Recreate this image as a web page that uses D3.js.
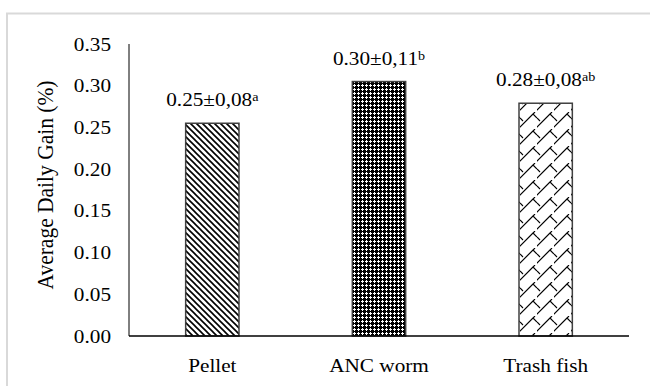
<!DOCTYPE html>
<html>
<head>
<meta charset="utf-8">
<script src="https://cdn.jsdelivr.net/npm/d3@7"></script>
<style>
  body { margin: 0; background: #fff; }
  svg text { font-family: "Liberation Serif", "Times New Roman", serif; fill: #000; }
</style>
</head>
<body>
<svg id="chart"></svg>
<script>
// data
const categories = ['Pellet', 'ANC worm', 'Trash fish'];
const values = [0.255, 0.305, 0.279];
const labelMain = ['0.25±0,08', '0.30±0,11', '0.28±0,08'];
const labelSup = ['a', 'b', 'ab'];
const patterns = ['pat-pellet', 'pat-anc', 'pat-trash'];
const yTicks = [0, 0.05, 0.10, 0.15, 0.20, 0.25, 0.30, 0.35];

const width = 650, height = 386;
const margin = { top: 44, right: 21, bottom: 50, left: 129 };
const innerW = width - margin.left - margin.right;
const innerH = height - margin.top - margin.bottom;
const sx = 1.18; // text in the reference is stretched horizontally

const svg = d3.select('#chart').attr('width', width).attr('height', height);

// outer frame (only top and left edges are visible)
svg.append('path')
  .attr('d', `M7,${height + 5}V13.5H${width + 5}`)
  .attr('fill', 'none')
  .attr('stroke', '#d9d9d9')
  .attr('stroke-width', 2);

const defs = svg.append('defs');

// downward diagonal stripes
const p1 = defs.append('pattern').attr('id', 'pat-pellet')
  .attr('patternUnits', 'userSpaceOnUse').attr('width', 6).attr('height', 6);
p1.append('rect').attr('width', 6).attr('height', 6).attr('fill', '#fff');
p1.append('path').attr('d', 'M-1,-1L7,7M-1,5L1,7M5,-1L7,1')
  .attr('stroke', '#000').attr('stroke-width', 1.6);

// dark dotted grid
const p2 = defs.append('pattern').attr('id', 'pat-anc')
  .attr('patternUnits', 'userSpaceOnUse').attr('width', 4).attr('height', 4);
p2.append('rect').attr('width', 4).attr('height', 4).attr('fill', '#000');
p2.append('rect').attr('x', 0).attr('y', 1).attr('width', 3).attr('height', 1).attr('fill', '#fff');
p2.append('rect').attr('x', 1).attr('y', 0).attr('width', 1).attr('height', 3).attr('fill', '#fff');

// shingle
const p3 = defs.append('pattern').attr('id', 'pat-trash')
  .attr('patternUnits', 'userSpaceOnUse').attr('width', 17).attr('height', 17);
p3.append('rect').attr('width', 17).attr('height', 17).attr('fill', '#fff');
p3.append('path')
  .attr('d', 'M0,15L13,2M-2,17L0,15M13,2L15,0M13,2L17,6M0,6L3,9')
  .attr('stroke', '#000').attr('stroke-width', 1.1).attr('fill', 'none');

const g = svg.append('g').attr('transform', `translate(${margin.left},${margin.top})`);

const x = d3.scaleBand().domain(categories).range([0, innerW])
  .paddingInner(0.68).paddingOuter(0.34);
const y = d3.scaleLinear().domain([0, 0.35]).range([innerH, 0]);

// y axis
const yAxis = d3.axisLeft(y).tickValues(yTicks).tickFormat(d3.format('.2f')).tickSize(0);
g.append('g').call(yAxis)
  .call(s => s.select('.domain').remove())
  .call(s => s.selectAll('text')
    .attr('x', null).attr('dy', '0.34em')
    .attr('transform', `translate(-18,0) scale(${sx},1)`)
    .style('font-size', '18px'));
g.append('line').attr('x1', 0).attr('x2', 0).attr('y1', 0).attr('y2', innerH)
  .attr('stroke', '#000').attr('stroke-width', 1);

// bars
g.selectAll('.bar').data(values).join('rect')
  .attr('class', 'bar')
  .attr('x', (d, i) => x(categories[i]))
  .attr('y', d => y(d))
  .attr('width', x.bandwidth())
  .attr('height', d => innerH - y(d))
  .attr('fill', (d, i) => `url(#${patterns[i]})`)
  .attr('stroke', '#404040')
  .attr('stroke-width', 1.5);

// x axis line
g.append('line').attr('x1', 0).attr('x2', innerW).attr('y1', innerH).attr('y2', innerH)
  .attr('stroke', '#000').attr('stroke-width', 1.5);

// category labels
g.selectAll('.cat').data(categories).join('text')
  .attr('class', 'cat')
  .attr('text-anchor', 'middle')
  .attr('transform', d => `translate(${x(d) + x.bandwidth() / 2},${innerH + 36}) scale(${sx},1)`)
  .style('font-size', '18px')
  .text(d => d);

// value labels with superscripts
const lab = g.selectAll('.val').data(values).join('text')
  .attr('class', 'val')
  .attr('text-anchor', 'middle')
  .attr('transform', (d, i) => `translate(${x(categories[i]) + x.bandwidth() / 2},${y(d) - 17}) scale(${sx},1)`)
  .style('font-size', '18px');
lab.append('tspan').text((d, i) => labelMain[i]);
lab.append('tspan').attr('dy', '-0.4em').style('font-size', '12px').text((d, i) => labelSup[i]);

// y title
svg.append('text')
  .attr('text-anchor', 'middle')
  .attr('transform', `translate(53,${margin.top + innerH / 2 - 5}) scale(1.05,1) rotate(-90)`)
  .style('font-size', '21.5px')
  .text('Average Daily Gain (%)');
</script>
</body>
</html>
